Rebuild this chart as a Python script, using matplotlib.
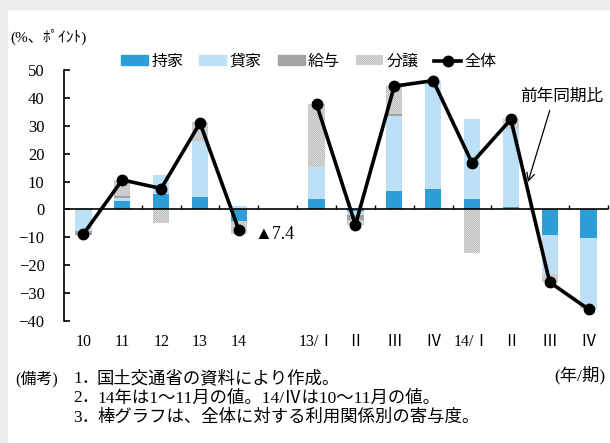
import numpy as np
import matplotlib
matplotlib.use('Agg')
import matplotlib.pyplot as plt
from matplotlib.patches import Patch, Rectangle
from matplotlib.lines import Line2D

plt.rcParams['font.family'] = ['Liberation Serif', 'Noto Sans CJK JP']
plt.rcParams['hatch.linewidth'] = 0.6

nan = np.nan

# 年 / 四半期 (空欄は年次と四半期の間の区切り)
periods = ['10', '11', '12', '13', '14', '',
           '13/Ⅰ', 'Ⅱ', 'Ⅲ', 'Ⅳ', '14/Ⅰ', 'Ⅱ', 'Ⅲ', 'Ⅳ']

# 利用関係別の寄与度 (%ポイント)
mochiie = [0.0, 2.9, 5.4, 4.4, -4.3, nan, 3.6, -0.7, 6.5, 7.3, 3.6, 0.8, -9.0, -10.1]
kashiya = [-7.9, 1.1, 6.8, 20.0, 1.4, nan, 11.6, -1.3, 27.0, 38.5, 28.8, 28.0, -14.1, -25.6]
kyuyo = [-1.4, 0.8, 0.0, 0.0, 0.0, nan, 0.0, -1.7, 0.7, 0.0, 0.0, 0.0, 0.0, 0.0]
bunjo = [0.4, 5.8, -4.7, 6.8, -4.5, nan, 22.5, -1.8, 10.0, 0.4, -15.7, 3.5, -3.0, -0.1]

# 全体 (前年同期比, %)
zentai = [-8.8, 10.6, 7.5, 31.0, -7.4, nan, 37.7, -5.5, 44.2, 46.2, 16.7, 32.3, -26.1, -35.8]

series = [
    ('持家', mochiie, dict(color='#2e9ed8')),
    ('貸家', kashiya, dict(color='#bde0f6')),
    ('給与', kyuyo, dict(color='#a3a3a3')),
    ('分譲', bunjo, dict(facecolor='#ededed', edgecolor='#b4b4b4', hatch='/' * 16, linewidth=0)),
]

x = np.arange(len(periods))

fig = plt.figure(figsize=(6.1, 4.43), dpi=100)
fig.patches.append(Rectangle((0, 1 - 9 / 443), 1, 9 / 443, transform=fig.transFigure,
                             color='#ececec', zorder=0))
fig.patches.append(Rectangle((0, 0), 7 / 610, 1, transform=fig.transFigure,
                             color='#ececec', zorder=0))

ax = fig.add_axes([64 / 610, 1 - 321 / 443, 544 / 610, 251 / 443])

pos_base = np.zeros(len(x))
neg_base = np.zeros(len(x))
for name, vals, style in series:
    v = np.nan_to_num(np.array(vals, dtype=float))
    bottom = np.where(v >= 0, pos_base, neg_base)
    ax.bar(x, v, 0.42, bottom=bottom, zorder=2, **style)
    pos_base = pos_base + np.where(v > 0, v, 0)
    neg_base = neg_base + np.where(v < 0, v, 0)

ax.plot(x, zentai, color='black', lw=2.6, marker='o', ms=7.5, zorder=4)

# ゼロ線と区切り目盛
ax.axhline(0, color='black', lw=1.2, zorder=3)
ax.vlines(x[:-1] + 0.5, 0, 1.5, color='black', lw=1.0, zorder=3)
ax.vlines(x[-1] + 0.5, 0, 1.5, color='black', lw=1.0, zorder=3, clip_on=False)

ax.set_xlim(-0.5, 13.5)
ax.set_ylim(-40, 50)
ax.set_yticks(np.arange(-40, 51, 10))
ax.set_xticks(x)
ax.set_xticklabels(periods)
ax.tick_params(axis='x', length=0, pad=9, labelsize=11.5)
ax.tick_params(axis='y', direction='in', length=4, width=1.2, pad=14, labelsize=12)
for s in ['top', 'right', 'bottom']:
    ax.spines[s].set_visible(False)
ax.spines['left'].set_linewidth(1.2)

ax.annotate('▲7.4', xy=(4, zentai[4]), xytext=(11.5, -3), textcoords='offset points',
            ha='left', va='center', fontsize=13, family=['Liberation Serif', 'DejaVu Sans'])

ax.annotate('前年同期比', xy=(11.44, 9.8), xytext=(12.3, 40.3),
            ha='center', va='center', fontsize=12,
            arrowprops=dict(arrowstyle='->', color='black', lw=0.9,
                            mutation_scale=14, relpos=(0.38, 0), shrinkA=2, shrinkB=0))

handles = [Patch(label=n, **st) for n, _, st in series]
handles.append(Line2D([], [], color='black', lw=2.6, marker='o', ms=7.5, label='全体'))
fig.legend(handles=handles, loc='center left', bbox_to_anchor=(121 / 610, 1 - 62 / 443),
           ncol=5, frameon=False, fontsize=11.5, handlelength=1.7, handleheight=0.6,
           handletextpad=0.2, columnspacing=1.0, borderpad=0, borderaxespad=0)

fig.text(10 / 610, 1 - 37 / 443, '(%、ﾎﾟｲﾝﾄ)', ha='left', va='center', fontsize=11)

notes = ['国土交通省の資料により作成。',
         '14年は1～11月の値。14/Ⅳは10～11月の値。',
         '棒グラフは、全体に対する利用関係別の寄与度。']
fig.text(15 / 610, 1 - 379 / 443, '(備考)', ha='left', va='center', fontsize=11.5)
for i, line in enumerate(notes):
    y = 1 - (379 + 19.5 * i) / 443
    fig.text(73 / 610, y, f'{i + 1}．', ha='left', va='center', fontsize=12.5)
    fig.text(97 / 610, y, line, ha='left', va='center', fontsize=12.5)
fig.text(605 / 610, 1 - 375 / 443, '(年/期)', ha='right', va='center', fontsize=12.5)

fig.savefig('out.png', dpi=100)
